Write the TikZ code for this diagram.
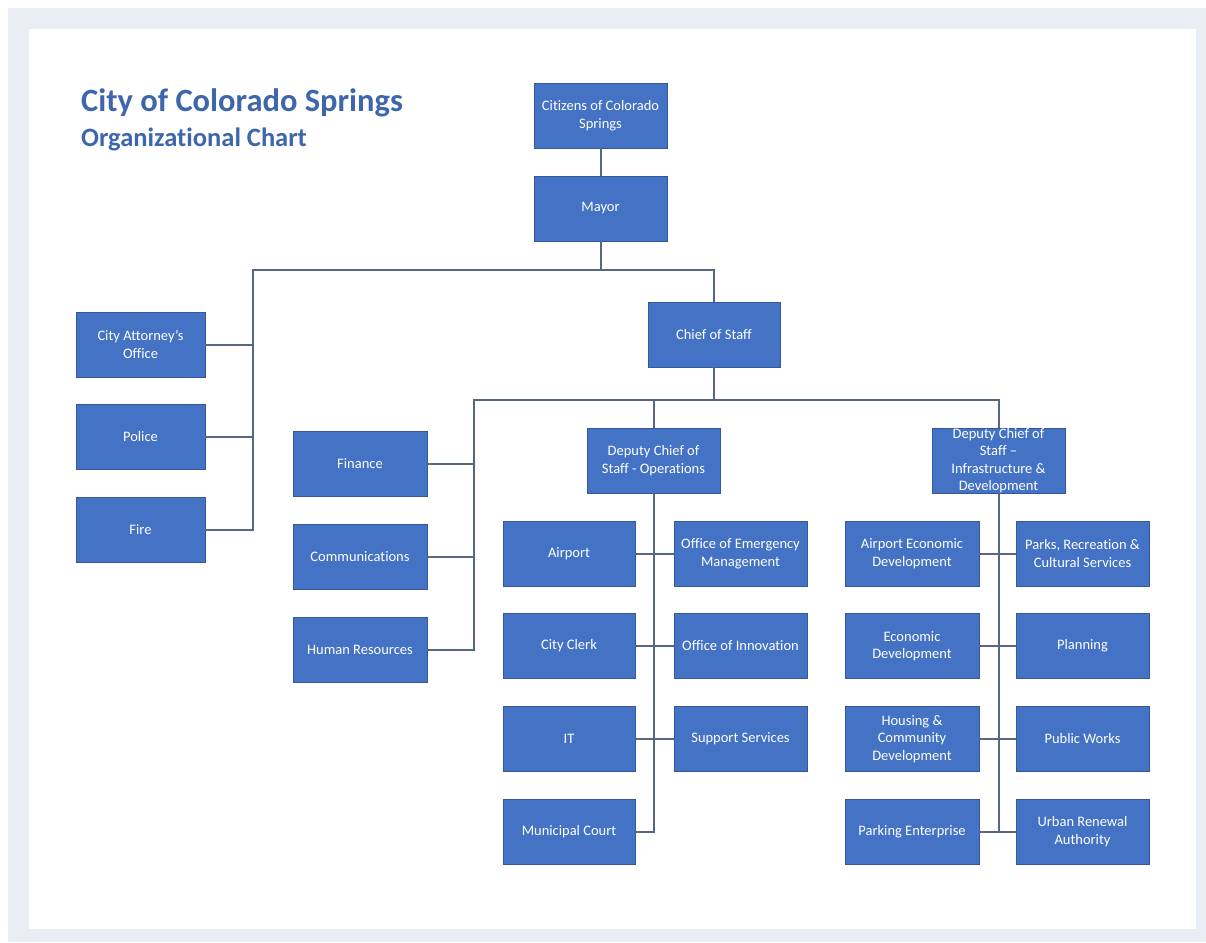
\documentclass[tikz,border=0pt]{standalone}
\usepackage{fontspec}
\setmainfont{Carlito}[Ligatures=NoCommon]
\definecolor{boxfill}{RGB}{68,114,196}
\definecolor{boxline}{RGB}{52,88,152}
\definecolor{conn}{RGB}{86,102,132}
\definecolor{frame}{RGB}{233,238,244}
\definecolor{titleblue}{RGB}{62,102,172}
\begin{document}
\begin{tikzpicture}[x=1pt,y=-1pt,
  unit/.style={draw=boxline,line width=0.7pt,fill=boxfill,text=white,
    minimum width=133pt,minimum height=65pt,inner sep=0pt,align=center,
    font=\fontsize{14.5}{17.5}\selectfont},
  link/.style={draw=conn,line width=2pt}]
\useasboundingbox (0,0) rectangle (1206,942);
\fill[white] (0,0) rectangle (1206,942);
\fill[frame] (8,8) rectangle (1206,942);
\fill[white] (29,29) rectangle (1196,929);

\node[anchor=base west,inner sep=0pt,text=titleblue,font=\bfseries\fontsize{32.5}{38}\selectfont] (t1) at (81,111) {City of Colorado Springs};
\node[anchor=base west,inner sep=0pt,text=titleblue,font=\bfseries\fontsize{26.5}{31}\selectfont] (t2) at (81,146) {Organizational Chart};

\node[unit] (cit) at (600.5,115.5) {Citizens of Colorado\\Springs};
\node[unit] (mayor) at (600.5,208.5) {Mayor};
\node[unit,minimum width=132pt] (cos) at (714,334.5) {Chief of Staff};

\node[unit,minimum width=129pt] (att) at (140.5,344.5) {City Attorney’s\\Office};
\node[unit,minimum width=129pt] (police) at (140.5,437) {Police};
\node[unit,minimum width=129pt] (fire) at (140.5,529.5) {Fire};

\node[unit,minimum width=134pt] (fin) at (360,464) {Finance};
\node[unit,minimum width=134pt] (comm) at (360,556.5) {Communications};
\node[unit,minimum width=134pt] (hr) at (360,649.5) {Human Resources};

\node[unit] (ops) at (653.5,460.5) {Deputy Chief of\\Staff - Operations};
\node[unit] (ide) at (998.5,460.5) {Deputy Chief of\\Staff –\\Infrastructure \&\\Development};

\node[unit,minimum width=132pt] (airport) at (569,553.5) {Airport};
\node[unit,minimum width=132pt] (clerk) at (569,646) {City Clerk};
\node[unit,minimum width=132pt] (it) at (569,739) {IT};
\node[unit,minimum width=132pt] (court) at (569,831.5) {Municipal Court};
\node[unit] (oem) at (740.5,553.5) {Office of Emergency\\Management};
\node[unit] (innov) at (740.5,646) {Office of Innovation};
\node[unit] (support) at (740.5,739) {Support Services};

\node[unit,minimum width=134pt] (aed) at (912,553.5) {Airport Economic\\Development};
\node[unit,minimum width=134pt] (econ) at (912,646) {Economic\\Development};
\node[unit,minimum width=134pt] (housing) at (912,739) {Housing \&\\Community\\Development};
\node[unit,minimum width=134pt] (parking) at (912,831.5) {Parking Enterprise};
\node[unit] (parks) at (1082.5,553.5) {Parks, Recreation \&\\Cultural Services};
\node[unit] (planning) at (1082.5,646) {Planning};
\node[unit] (public) at (1082.5,739) {Public Works};
\node[unit] (urban) at (1082.5,831.5) {Urban Renewal\\Authority};

\coordinate (lb) at (253,270);
\coordinate (cb) at (474,400);

\draw[link] (cit) -- (mayor);
\draw[link] (mayor.south) |- (lb) |- (fire.east);
\draw[link] (mayor.south) -- (mayor.south |- lb) -| (cos.north);
\draw[link] (att.east) -- (att.east -| lb);
\draw[link] (police.east) -- (police.east -| lb);

\draw[link] (cos.south) |- (cb) |- (hr.east);
\draw[link] (cos.south) -- (cos.south |- cb) -| (ide.north);
\draw[link] (ops.north) -- (ops.north |- cb);
\draw[link] (fin.east) -- (fin.east -| cb);
\draw[link] (comm.east) -- (comm.east -| cb);

\draw[link] (ops.south) |- (court.east);
\draw[link] (airport.east) -- (oem.west);
\draw[link] (clerk.east) -- (innov.west);
\draw[link] (it.east) -- (support.west);

\draw[link] (ide.south) -- (ide.south |- parking.east);
\draw[link] (aed.east) -- (parks.west);
\draw[link] (econ.east) -- (planning.west);
\draw[link] (housing.east) -- (public.west);
\draw[link] (parking.east) -- (urban.west);
\end{tikzpicture}
\end{document}
